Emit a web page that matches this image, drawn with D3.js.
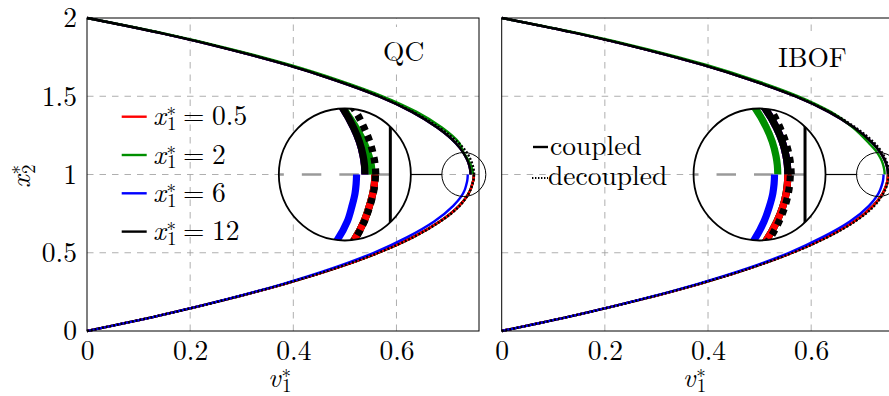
<!DOCTYPE html>
<html><head><meta charset="utf-8">
<script src="https://cdn.jsdelivr.net/npm/d3@7"></script>
</head><body style="margin:0;background:#fff">
<svg id="c" width="889" height="396" style="display:block"></svg>
<script>
// ---------------- data ----------------
const xTickValues = [0, 0.2, 0.4, 0.6];
const xTickLabels = ["0", "0.2", "0.4", "0.6"];
const yTickValues = [0, 0.5, 1, 1.5, 2];
const yTickLabels = ["0", "0.5", "1", "1.5", "2"];
const gridX = [0.2, 0.4, 0.6];
const gridY = [0.5, 1, 1.5];

const seriesNames = ["0.5", "2", "6", "12"];          // x1* values
const seriesColors = ["#ff0000", "#008f00", "#0000ff", "#000000"];
const panelNames = ["QC", "IBOF"];

// x2* sample positions (upper branch x2 in [1,2], lower branch in [0,1])
const x2Up  = [1, 1.02, 1.04, 1.07, 1.1, 1.14, 1.2, 1.3, 1.4, 1.5, 1.6, 1.7, 1.8, 1.9, 2];
const x2Low = [0, 0.1, 0.2, 0.3, 0.4, 0.5, 0.6, 0.7, 0.8, 0.86, 0.9, 0.93, 0.96, 0.98, 1];

// QC : v1* values
const qcUpBlack  = [0.7436, 0.7433, 0.7424, 0.7400, 0.7362, 0.7295, 0.715, 0.679, 0.630, 0.565, 0.483, 0.388, 0.276, 0.148, 0];
const qcUpGreen  = [0.7482, 0.7477, 0.7462, 0.7428, 0.7378, 0.7300, 0.722, 0.688, 0.639, 0.573, 0.490, 0.394, 0.281, 0.151, 0];
const qcUpRed    = qcUpBlack;
const qcUpBlue   = qcUpBlack;
const qcUpDot    = [0.7506, 0.7502, 0.7492, 0.7467, 0.7430, 0.7365, 0.721, 0.683, 0.632, 0.567, 0.485, 0.389, 0.277, 0.149, 0];
const qcLowRed   = [0, 0.142, 0.269, 0.382, 0.481, 0.565, 0.632, 0.684, 0.7215, 0.7365, 0.7430, 0.7462, 0.7487, 0.7497, 0.7500];
const qcLowBlue  = [0, 0.142, 0.268, 0.379, 0.475, 0.556, 0.621, 0.673, 0.710, 0.7256, 0.7322, 0.7350, 0.7372, 0.7379, 0.7382];
const qcLowGreen = qcLowRed;
const qcLowBlack = qcLowRed;
const qcLowDot   = [0, 0.142, 0.269, 0.382, 0.481, 0.565, 0.633, 0.685, 0.7225, 0.7368, 0.7432, 0.7465, 0.7490, 0.7500, 0.7504];

// IBOF : v1* values
const ibUpBlack  = [0.7489, 0.7486, 0.7477, 0.7453, 0.7415, 0.7343, 0.719, 0.683, 0.634, 0.569, 0.486, 0.390, 0.278, 0.149, 0];
const ibUpGreen  = [0.7424, 0.7421, 0.7412, 0.7388, 0.7350, 0.7280, 0.712, 0.681, 0.638, 0.575, 0.493, 0.397, 0.284, 0.153, 0];
const ibUpRed    = ibUpBlack;
const ibUpBlue   = ibUpBlack;
const ibUpDot    = [0.7511, 0.7507, 0.7498, 0.7474, 0.7438, 0.7375, 0.723, 0.686, 0.636, 0.570, 0.487, 0.391, 0.278, 0.149, 0];
const ibLowRed   = [0, 0.142, 0.269, 0.382, 0.480, 0.563, 0.630, 0.683, 0.720, 0.7350, 0.7418, 0.7455, 0.7478, 0.7486, 0.7489];
const ibLowBlue  = [0, 0.142, 0.268, 0.379, 0.476, 0.557, 0.622, 0.675, 0.712, 0.7270, 0.7335, 0.7368, 0.7392, 0.7400, 0.7403];
const ibLowGreen = ibLowRed;
const ibLowBlack = ibLowRed;
const ibLowDot   = [0, 0.142, 0.269, 0.382, 0.481, 0.564, 0.632, 0.685, 0.7225, 0.7365, 0.7432, 0.7468, 0.7492, 0.7501, 0.7505];

// zoom (spy) centre in data coordinates
const spyCenterV1 = 0.7306, spyCenterX2 = 1;

// ---------------- build ----------------
const panels = [
  { name: panelNames[0], x0: 87, label: {x: 383, y: 61},
    up:  {red: qcUpRed, green: qcUpGreen, blue: qcUpBlue, black: qcUpBlack, dot: qcUpDot},
    low: {red: qcLowRed, green: qcLowGreen, blue: qcLowBlue, black: qcLowBlack, dot: qcLowDot} },
  { name: panelNames[1], x0: 501.7, label: {x: 778, y: 66.5},
    up:  {red: ibUpRed, green: ibUpGreen, blue: ibUpBlue, black: ibUpBlack, dot: ibUpDot},
    low: {red: ibLowRed, green: ibLowGreen, blue: ibLowBlue, black: ibLowBlack, dot: ibLowDot} }
];
const keys = ["red", "green", "blue", "black"];
const colorOf = k => seriesColors[keys.indexOf(k)];
const upOrder = ["red", "blue", "green", "black"];
const lowOrder = ["green", "black", "red", "blue"];

const FF = "'Latin Modern Roman'";
const FS = 27.5, FSS = 19;
const LW = 2.4;
const svg = d3.select("#c");
const defs = svg.append("defs");

function drawContent(g, xs, ys, P) {
  const [xa, xb] = xs.range(), [ya, yb] = ys.range();
  g.append("g").selectAll("line").data(gridX).join("line")
    .attr("x1", d => xs(d)).attr("x2", d => xs(d))
    .attr("y1", ys(0)).attr("y2", ys(2))
    .attr("stroke", "#9a9a9a").attr("stroke-width", 0.8).attr("stroke-dasharray", "6.5,6");
  g.append("g").selectAll("line").data(gridY).join("line")
    .attr("x1", xa).attr("x2", xb)
    .attr("y1", d => ys(d)).attr("y2", d => ys(d))
    .attr("stroke", "#9a9a9a").attr("stroke-width", 0.8).attr("stroke-dasharray", "6.5,6");
  const line = d3.line().x(d => xs(d[0])).y(d => ys(d[1])).curve(d3.curveMonotoneY);
  const zip = (v, x2) => v.map((d, i) => [d, x2[i]]);
  upOrder.forEach(k => g.append("path").datum(zip(P.up[k], x2Up)).attr("d", line)
    .attr("fill", "none").attr("stroke", colorOf(k)).attr("stroke-width", LW));
  lowOrder.forEach(k => g.append("path").datum(zip(P.low[k], x2Low)).attr("d", line)
    .attr("fill", "none").attr("stroke", colorOf(k)).attr("stroke-width", LW));
  [[P.up.dot, x2Up], [P.low.dot, x2Low]].forEach(([v, x2]) =>
    g.append("path").datum(zip(v, x2)).attr("d", line)
      .attr("fill", "none").attr("stroke", "#000").attr("stroke-width", LW)
      .attr("stroke-dasharray", "2,1.8"));
  g.append("rect").attr("x", xa).attr("y", yb).attr("width", xb - xa).attr("height", ya - yb)
    .attr("fill", "none").attr("stroke", "#000").attr("stroke-width", 1);
}

// one text element with absolute tspans: italic base, superscript *, subscript, optional "= value"
function mathText(g, x, y, base, sub, value) {
  const t = g.append("text").attr("font-size", FS).style("font-family", FF).attr("fill", "#000");
  t.append("tspan").attr("x", x).attr("y", y).style("font-style", "italic").text(base);
  t.append("tspan").attr("x", x + 13.5).attr("y", y - 4).attr("font-size", FSS).text("*");
  t.append("tspan").attr("x", x + 14).attr("y", y + 4.8).attr("font-size", FSS).text(sub);
  if (value !== undefined) {
    t.append("tspan").attr("x", x + 30).attr("y", y).text("=");
    t.append("tspan").attr("x", x + 59).attr("y", y).text(value);
  }
  return t;
}
function plainText(g, x, y, s) {
  return g.append("text").attr("x", x).attr("y", y).attr("font-size", FS)
    .style("font-family", FF).attr("fill", "#000").text(s);
}

panels.forEach((P, pi) => {
  const xs = d3.scaleLinear().domain([0, 0.76]).range([P.x0, P.x0 + 392]);
  const ys = d3.scaleLinear().domain([0, 2]).range([331, 18]);

  const gm = svg.append("g");
  drawContent(gm, xs, ys, P);

  // x axis tick labels
  const ax = d3.axisBottom(xs).tickValues(xTickValues)
    .tickFormat((d, i) => xTickLabels[i]).tickSize(0).tickPadding(9.5);
  const gx = svg.append("g").attr("transform", "translate(0,331)").call(ax);
  gx.select(".domain").remove();
  gx.attr("font-size", FS);
  gx.selectAll("text").style("font-family", FF).attr("fill", "#000");

  if (pi === 0) {
    const ay = d3.axisLeft(ys).tickValues(yTickValues)
      .tickFormat((d, i) => yTickLabels[i]).tickSize(0).tickPadding(10);
    const gy = svg.append("g").attr("transform", `translate(${P.x0},0)`).call(ay);
    gy.select(".domain").remove();
    gy.attr("font-size", FS);
    gy.selectAll("text").style("font-family", FF).attr("fill", "#000");
    // y label x2*
    const gyl = svg.append("g").attr("transform", "translate(30,188) rotate(-90)");
    mathText(gyl, 0, 0, "x", "2");

    // legend
    const lg = svg.append("g");
    seriesNames.forEach((s, i) => {
      const ry = 116.7 + i * 38.3;
      lg.append("line").attr("x1", 121.7).attr("x2", 146.7).attr("y1", ry).attr("y2", ry)
        .attr("stroke", seriesColors[i]).attr("stroke-width", LW);
      mathText(lg, 153, ry + 8.5, "x", "1", s);
    });
  } else {
    const lg = svg.append("g");
    lg.append("line").attr("x1", 533).attr("x2", 548).attr("y1", 147).attr("y2", 147)
      .attr("stroke", "#000").attr("stroke-width", LW);
    plainText(lg, 550, 155, "coupled");
    lg.append("line").attr("x1", 532).attr("x2", 548).attr("y1", 178).attr("y2", 178)
      .attr("stroke", "#000").attr("stroke-width", 2).attr("stroke-dasharray", "1.4,1.6");
    plainText(lg, 548, 185, "decoupled");
  }

  // x label v1*
  const xl = svg.append("g");
  mathText(xl, P.x0 + 181, 387, "v", "1");

  // spy inset
  const sx = xs(spyCenterV1), sy = ys(spyCenterX2);
  const bx = sx - 119, by = sy, rs = 22, rb = 66, mag = 3;
  const cid = "spyclip" + pi;
  defs.append("clipPath").attr("id", cid).append("circle").attr("cx", bx).attr("cy", by).attr("r", rb);
  svg.append("circle").attr("cx", bx).attr("cy", by).attr("r", rb).attr("fill", "#fff");
  const gi = svg.append("g").attr("clip-path", `url(#${cid})`)
    .append("g").attr("transform", `translate(${bx},${by}) scale(${mag}) translate(${-sx},${-sy})`);
  drawContent(gi, xs, ys, P);
  svg.append("circle").attr("cx", bx).attr("cy", by).attr("r", rb)
    .attr("fill", "none").attr("stroke", "#000").attr("stroke-width", 1.8);
  svg.append("circle").attr("cx", sx).attr("cy", sy).attr("r", rs)
    .attr("fill", "none").attr("stroke", "#000").attr("stroke-width", 1);
  svg.append("line").attr("x1", bx + rb).attr("x2", sx - rs).attr("y1", by).attr("y2", sy)
    .attr("stroke", "#000").attr("stroke-width", 1.2);

  // panel label with white box
  const lt = svg.append("g");
  const t = plainText(lt, P.label.x, P.label.y, P.name);
  const bb = t.node().getBBox();
  lt.insert("rect", "text").attr("x", bb.x - 5).attr("y", bb.y - 3)
    .attr("width", bb.width + 10).attr("height", bb.height + 6).attr("fill", "#fff");
});
</script>
</body></html>
